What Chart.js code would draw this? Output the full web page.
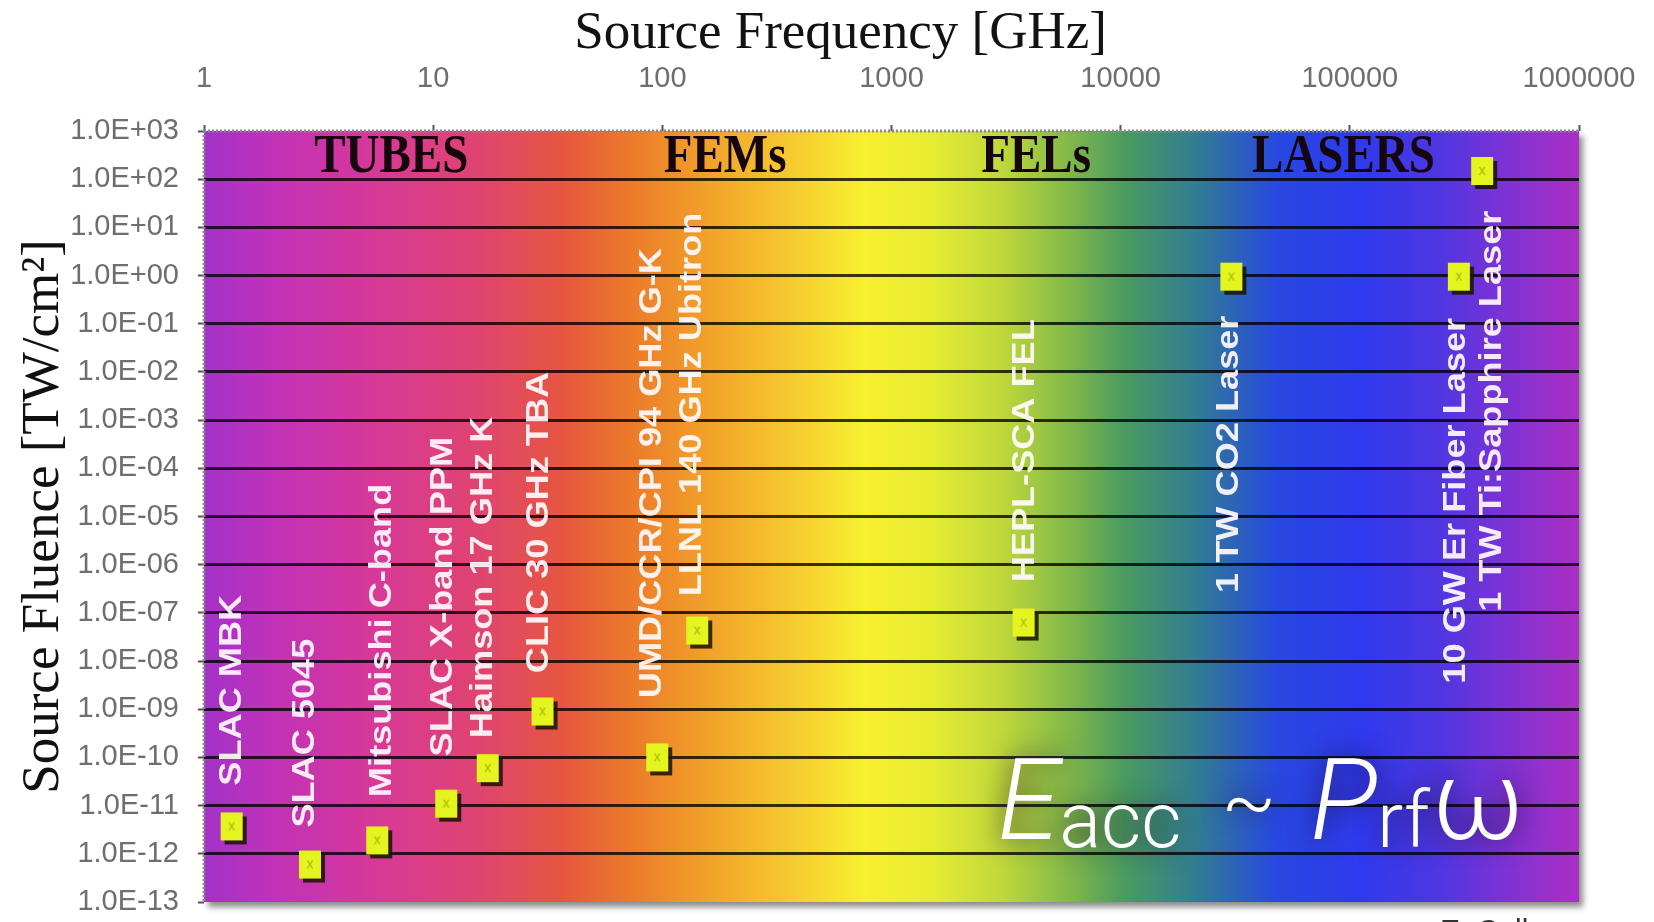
<!DOCTYPE html>
<html>
<head>
<meta charset="utf-8">
<title>Source fluence vs source frequency</title>
<script src="https://cdn.jsdelivr.net/npm/chart.js"></script>
<style>
  html, body { margin: 0; padding: 0; background: #fff; }
  canvas { display: block; }
</style>
</head>
<body>
<canvas id="chartFluence" width="1654" height="922"></canvas>
<script>
// sources
const sources = [
    'SLAC MBK', 'SLAC 5045', 'Mitsubishi C-band', 'SLAC X-band PPM',
    'Haimson 17 GHz K', 'CLIC 30 GHz TBA', 'UMD/CCR/CPI 94 GHz G-K',
    'LLNL 140 GHz Ubitron', 'HEPL-SCA FEL', '1 TW CO2 Laser',
    '10 GW Er Fiber Laser', '1 TW Ti:Sapphire Laser'
];
const freqGHz = [1.32, 2.9, 5.7, 11.4, 17.3, 30, 95, 142, 3770, 30400, 299000, 378000];
const fluence = [3.7e-12, 6e-13, 1.9e-12, 1.1e-11, 6e-11, 9e-10, 1e-10, 4.3e-8, 6.3e-8, 0.95, 0.95, 148];

// where each name starts (frequency, fluence at the foot of the rotated text)
const labelFreq = [1.33, 2.77, 6.0, 11.1, 16.6, 29.1, 90.3, 135, 3850, 29700, 290000, 420000];
const labelFrom = [2.6e-11, 3.5e-12, 1.5e-11, 1.05e-10, 2.5e-10, 5.6e-9, 1.7e-9, 2.2e-7, 4.3e-7, 2.6e-7, 3.4e-9, 1.05e-7];

const groups = ['TUBES', 'FEMs', 'FELs', 'LASERS'];
const groupFreq = [6.56, 188, 4275, 93800];
const groupLevel = [270, 270, 270, 270];

const xTicks = [1, 10, 100, 1000, 10000, 100000, 1000000];
const yTicks = [1e-13, 1e-12, 1e-11, 1e-10, 1e-9, 1e-8, 1e-7, 1e-6, 1e-5, 1e-4, 1e-3, 1e-2, 1e-1, 1e0, 1e1, 1e2, 1e3];

const tickFont = "'Liberation Sans', Arial, sans-serif";

const fmtExp = v => {
    const e = Math.round(Math.log10(v));
    return '1.0E' + (e < 0 ? '-' : '+') + String(Math.abs(e)).padStart(2, '0');
};

// yellow block with a hard shadow, used as the point image
const marker = (() => {
    const c = document.createElement('canvas');
    c.width = 32;
    c.height = 38;
    const g = c.getContext('2d');
    g.fillStyle = 'rgba(25,20,0,0.85)';
    g.fillRect(9, 9, 22, 28);
    g.fillStyle = '#e4f41f';
    g.fillRect(5, 5, 22, 28);
    g.fillStyle = 'rgba(120,145,0,0.6)';
    g.font = '14px "Liberation Sans"';
    g.textAlign = 'center';
    g.textBaseline = 'middle';
    g.fillText('x', 16, 19);
    return c;
})();

const spectrumStops = [
    [0.00, '#a331c9'], [0.05, '#c032b8'], [0.12, '#d6389a'], [0.20, '#e04470'],
    [0.26, '#e65640'], [0.31, '#ec7a2a'], [0.37, '#f2a42a'], [0.43, '#f6cc30'],
    [0.48, '#f8f030'], [0.53, '#e6ec32'], [0.58, '#c0d83a'], [0.63, '#80b84a'],
    [0.67, '#4a9a60'], [0.72, '#317e90'], [0.78, '#2848e0'], [0.84, '#2e3aee'],
    [0.90, '#5036e0'], [0.95, '#8032d4'], [1.00, '#ab2fc4']
];

const spectrum = {
    id: 'spectrum',
    beforeDraw(chart) {
        const { ctx, chartArea: a } = chart;
        const grad = ctx.createLinearGradient(a.left, 0, a.right, 0);
        spectrumStops.forEach(([p, col]) => grad.addColorStop(p, col));
        ctx.save();
        ctx.shadowColor = 'rgba(0,0,0,0.45)';
        ctx.shadowBlur = 6;
        ctx.shadowOffsetX = 4;
        ctx.shadowOffsetY = 5;
        ctx.fillStyle = grad;
        ctx.fillRect(a.left, a.top, a.width, a.height);
        ctx.restore();
    }
};

const notes = {
    id: 'notes',
    beforeDatasetsDraw(chart) {
        const { ctx, chartArea: a, scales: { x, y } } = chart;
        ctx.save();

        // dotted frame on the top and left edges
        ctx.strokeStyle = '#8a8a8a';
        ctx.lineWidth = 3;
        ctx.setLineDash([2, 2]);
        ctx.beginPath();
        ctx.moveTo(a.left, a.top);
        ctx.lineTo(a.right, a.top);
        ctx.moveTo(a.left, a.top);
        ctx.lineTo(a.left, a.bottom);
        ctx.stroke();
        ctx.setLineDash([]);

        ctx.textBaseline = 'middle';
        ctx.fillStyle = '#14060c';
        ctx.font = 'bold 47px "Liberation Serif"';
        ctx.textAlign = 'center';
        groups.forEach((g, i) => {
            ctx.save();
            ctx.translate(x.getPixelForValue(groupFreq[i]), y.getPixelForValue(groupLevel[i]));
            ctx.scale(1, 1.15);
            ctx.fillText(g, 0, 0);
            ctx.restore();
        });

        ctx.fillStyle = 'rgba(255,250,252,0.93)';
        ctx.font = 'bold 32px "Liberation Sans"';
        ctx.textAlign = 'left';
        sources.forEach((s, i) => {
            ctx.save();
            ctx.translate(x.getPixelForValue(labelFreq[i]), y.getPixelForValue(labelFrom[i]));
            ctx.scale(1, 1.13);
            ctx.rotate(-Math.PI / 2);
            ctx.fillText(s, 0, 0);
            ctx.restore();
        });
        ctx.restore();
    },
    afterDraw(chart) {
        const { ctx, chartArea: a } = chart;
        ctx.save();

        // x axis title sits a bit left of the plot centre in the original
        ctx.fillStyle = '#121212';
        ctx.font = '53px "Liberation Serif"';
        ctx.textAlign = 'center';
        ctx.textBaseline = 'alphabetic';
        ctx.fillText('Source Frequency [GHz]', a.left + a.width * 0.463, 48);

        // E_acc ~ P_rf ω
        ctx.shadowColor = 'rgba(30,10,40,0.85)';
        ctx.shadowBlur = 26;
        ctx.fillStyle = '#fff';
        ctx.textAlign = 'left';
        const base = a.top + a.height * 0.918;
        let px = a.left + a.width * 0.577;
        const piece = (t, font, dy, gap) => {
            ctx.font = font;
            ctx.fillText(t, px, base + dy);
            px += ctx.measureText(t).width + gap;
        };
        piece('E', 'italic 300 112px Roboto', 0, 0);
        piece('acc', '300 78px Roboto', 8, 40);
        piece('~', '300 80px Roboto', -10, 34);
        piece('P', 'italic 300 112px Roboto', 0, 0);
        piece('rf', '300 78px Roboto', 8, 2);
        piece('ω', '300 112px Roboto', 0, 0);

        ctx.shadowColor = 'transparent';
        ctx.fillStyle = '#333';
        ctx.font = '30px "Liberation Sans"';
        ctx.fillText('E. Colby', 1440, 940);
        ctx.restore();
    }
};

const ctx1 = document.getElementById('chartFluence').getContext('2d');
new Chart(ctx1, {
    type: 'scatter',
    data: {
        datasets: [{
            data: freqGHz.map((f, i) => ({ x: f, y: fluence[i] })),
            pointStyle: marker,
            pointRadius: 12,
            showLine: false
        }]
    },
    options: {
        responsive: false,
        animation: false,
        layout: { padding: { top: 0, left: 0, right: 75, bottom: 20 } },
        plugins: {
            legend: { display: false },
            tooltip: { enabled: false }
        },
        scales: {
            x: {
                type: 'logarithmic',
                position: 'top',
                min: 1,
                max: 1000000,
                afterBuildTicks: s => { s.ticks = xTicks.map(v => ({ value: v })); },
                afterFit: s => { s.height = 131; s.paddingLeft = 0; s.paddingRight = 0; },
                ticks: {
                    callback: v => String(v),
                    color: '#6e6e6e',
                    font: { family: tickFont, size: 29 },
                    padding: 29,
                    maxRotation: 0,
                    autoSkip: false
                },
                grid: { drawOnChartArea: false, tickLength: 6, tickColor: '#555', tickWidth: 2 },
                border: { display: false }
            },
            y: {
                type: 'logarithmic',
                min: 1e-13,
                max: 1e3,
                afterBuildTicks: s => { s.ticks = yTicks.map(v => ({ value: v })); },
                afterFit: s => { s.width = 204; s.paddingTop = 0; s.paddingBottom = 0; },
                ticks: {
                    callback: fmtExp,
                    color: '#6e6e6e',
                    font: { family: tickFont, size: 29 },
                    padding: 19,
                    autoSkip: false
                },
                grid: {
                    color: c => (c.tick && (c.tick.value === yTicks[0] || c.tick.value === yTicks[yTicks.length - 1]))
                        ? 'rgba(0,0,0,0)' : 'rgba(0,0,0,0.78)',
                    lineWidth: 3,
                    tickLength: 6,
                    tickColor: '#555',
                    tickWidth: 2
                },
                border: { display: false },
                title: {
                    display: true,
                    text: 'Source Fluence [TW/cm²]',
                    color: '#111',
                    font: { family: 'Liberation Serif', size: 53 },
                    padding: { top: 12, bottom: 0 }
                }
            }
        }
    },
    plugins: [spectrum, notes]
});
</script>
</body>
</html>
